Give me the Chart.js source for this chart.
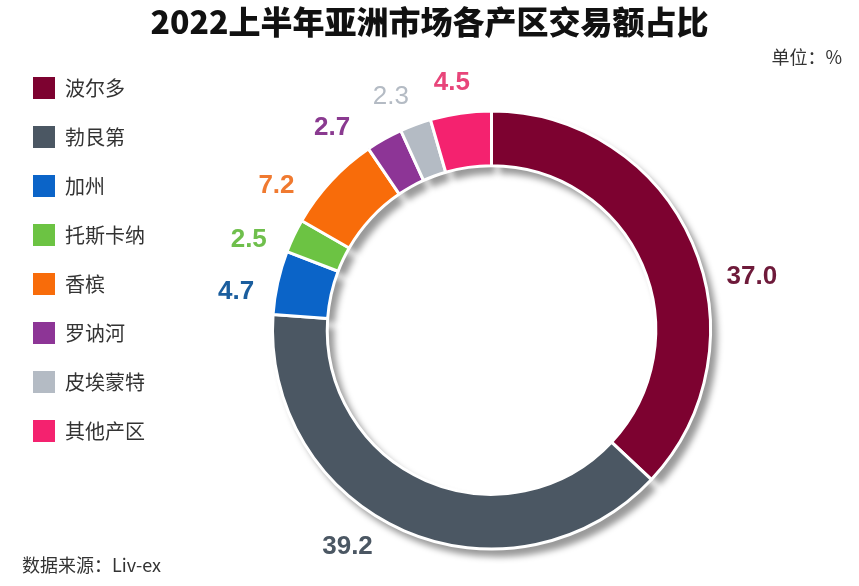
<!DOCTYPE html>
<html lang="zh">
<head>
    <meta charset="UTF-8">
    <title>2022上半年亚洲市场各产区交易额占比</title>
    <script src="https://cdn.jsdelivr.net/npm/chart.js"></script>
    <style>
        html, body {
            margin: 0;
            padding: 0;
            background: #ffffff;
            overflow: hidden;
        }
        #wrap {
            width: 859px;
            height: 586px;
            overflow: hidden;
        }
    </style>
</head>
<body>
    <!-- 画布比窗口略高，让圆环中心落在 y=330 -->
    <div id="wrap"><canvas id="shareChart" width="859" height="610"></canvas></div>

    <script>
        // 数据
        const regions = ['波尔多', '勃艮第', '加州', '托斯卡纳', '香槟', '罗讷河', '皮埃蒙特', '其他产区'];
        const shares = [37.0, 39.2, 4.7, 2.5, 7.2, 2.7, 2.3, 4.5];
        const sliceColors = ['#7d0230', '#4b5763', '#0b64c8', '#6cc343', '#f86c0a', '#8d3596', '#b4bbc4', '#f4226f'];
        const labelColors = ['#6e1a3a', '#4b5763', '#1b5e9e', '#6fbf4c', '#f07a30', '#8a3a90', '#b4bbc4', '#e8457a'];

        const cjk = "'Noto Sans CJK SC', 'Noto Sans', sans-serif";

        // 阴影
        const ringShadow = {
            id: 'ringShadow',
            beforeDatasetsDraw(chart) {
                const ctx = chart.ctx;
                const meta = chart.getDatasetMeta(0);
                ctx.save();
                ctx.filter = 'blur(3px)';
                ctx.translate(6, 7);
                ctx.fillStyle = 'rgba(0,0,0,0.40)';
                meta.data.forEach(arc => {
                    const p = arc.getProps(['x', 'y', 'startAngle', 'endAngle', 'innerRadius', 'outerRadius'], true);
                    ctx.beginPath();
                    ctx.arc(p.x, p.y, p.outerRadius + 1, p.startAngle + 0.012, p.endAngle - 0.012);
                    ctx.arc(p.x, p.y, p.innerRadius - 1, p.endAngle - 0.012, p.startAngle + 0.012, true);
                    ctx.closePath();
                    ctx.fill();
                });
                ctx.restore();
            }
        };

        // 数值标签：放在扇区中线外侧，按文字框大小向外推
        const valueLabels = {
            id: 'valueLabels',
            afterDatasetsDraw(chart, args, opts) {
                const ctx = chart.ctx;
                const meta = chart.getDatasetMeta(0);
                ctx.save();
                ctx.textAlign = 'center';
                ctx.textBaseline = 'middle';
                meta.data.forEach((arc, i) => {
                    const p = arc.getProps(['x', 'y', 'startAngle', 'endAngle', 'outerRadius'], true);
                    const mid = (p.startAngle + p.endAngle) / 2 + (opts.shift[i] || 0) * Math.PI / 180;
                    const text = shares[i].toFixed(1);
                    ctx.font = (opts.weight[i] || 'bold') + " 26px 'Liberation Sans', Arial, sans-serif";
                    const w = ctx.measureText(text).width;
                    const cos = Math.cos(mid), sin = Math.sin(mid);
                    const r = p.outerRadius + opts.gap + Math.abs(cos) * w / 2 + Math.abs(sin) * 9;
                    ctx.fillStyle = labelColors[i];
                    ctx.fillText(text, p.x + cos * r, p.y + sin * r);
                });
                ctx.restore();
            }
        };

        // 标题 / 单位 / 数据来源
        const notes = {
            id: 'notes',
            afterDraw(chart) {
                const ctx = chart.ctx;
                ctx.save();
                ctx.textBaseline = 'middle';
                ctx.textAlign = 'center';
                ctx.fillStyle = '#111';
                ctx.font = '900 32px ' + cjk;
                ctx.fillText('2022上半年亚洲市场各产区交易额占比', 429.5, 22);
                ctx.fillStyle = '#333';
                ctx.font = '18px ' + cjk;
                ctx.textAlign = 'right';
                ctx.fillText('单位：%', 842, 57);
                ctx.textAlign = 'left';
                ctx.fillText('数据来源：Liv-ex', 22, 565);
                ctx.restore();
            }
        };

        const ctx = document.getElementById('shareChart').getContext('2d');
        const chart = new Chart(ctx, {
            type: 'doughnut',
            data: {
                labels: regions,
                datasets: [{
                    data: shares,
                    backgroundColor: sliceColors,
                    borderColor: '#ffffff',
                    borderWidth: 3
                }]
            },
            options: {
                responsive: false,
                animation: false,
                radius: 219,
                cutout: '75%',
                layout: {
                    padding: { left: 6, right: 31, top: 50, bottom: 0 }
                },
                plugins: {
                    title: { display: false },
                    legend: {
                        position: 'left',
                        align: 'start',
                        labels: {
                            boxWidth: 22,
                            boxHeight: 22,
                            padding: 27,
                            color: '#333',
                            font: { family: cjk, size: 20 },
                            generateLabels(chart) {
                                const items = Chart.overrides.doughnut.plugins.legend.labels.generateLabels(chart);
                                return items.map(item => Object.assign(item, { lineWidth: 0, strokeStyle: item.fillStyle }));
                            }
                        }
                    },
                    tooltip: { enabled: false },
                    valueLabels: {
                        gap: 20,
                        shift: [12, 10, -4, -5, -9, -9, -3, -1],
                        weight: ['bold', 'bold', 'bold', 'bold', 'bold', 'bold', 'normal', 'bold']
                    }
                }
            },
            plugins: [ringShadow, valueLabels, notes]
        });
    </script>
</body>
</html>
